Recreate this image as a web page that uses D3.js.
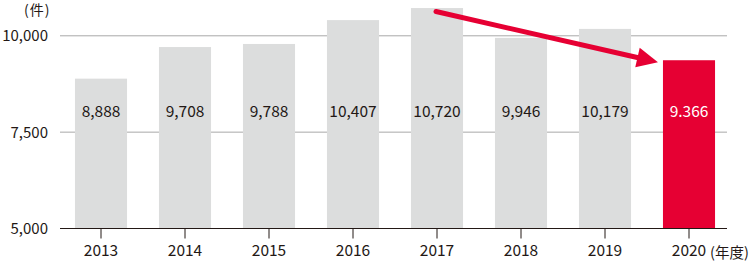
<!DOCTYPE html>
<html>
<head>
<meta charset="utf-8">
<script src="https://cdn.jsdelivr.net/npm/d3@7"></script>
<style>
  body { margin: 0; background: #fff; }
  text { font-family: "Noto Sans CJK JP", "Noto Sans", sans-serif; fill: #231815; }
</style>
</head>
<body>
<div id="chart"></div>
<script>
const years = ["2013", "2014", "2015", "2016", "2017", "2018", "2019", "2020"]
const counts = [8888, 9708, 9788, 10407, 10720, 9946, 10179, 9366]
const countLabels = ["8,888", "9,708", "9,788", "10,407", "10,720", "9,946", "10,179", "9.366"]
const yTicks = [5000, 7500, 10000]

const width = 756
const height = 262

const svg = d3.select("#chart")
  .append("svg")
  .attr("width", width)
  .attr("height", height)

const xScale = d3.scaleBand().domain(years).range([59, 731]).paddingInner(0.38).paddingOuter(0.19)
const yScale = d3.scaleLinear().domain([5000, 10000]).range([228.5, 35.8])

// grid lines
svg.selectAll(".grid")
  .data(yTicks.filter(t => t > 5000))
  .enter()
  .append("line")
  .attr("x1", 60)
  .attr("x2", 727)
  .attr("y1", d => yScale(d))
  .attr("y2", d => yScale(d))
  .style("stroke", "#a9a9a9")
  .style("stroke-width", 1)

// bars
svg.selectAll(".bar")
  .data(counts)
  .enter()
  .append("rect")
  .attr("x", (d, i) => xScale(years[i]))
  .attr("width", xScale.bandwidth())
  .attr("y", d => yScale(d))
  .attr("height", d => yScale(5000) - yScale(d))
  .style("fill", (d, i) => i === years.length - 1 ? "#e60033" : "#dcdddd")

// value labels
svg.selectAll(".val")
  .data(countLabels)
  .enter()
  .append("text")
  .attr("x", (d, i) => xScale(years[i]) + xScale.bandwidth() / 2)
  .attr("y", 117)
  .attr("text-anchor", "middle")
  .style("font-size", "15.5px")
  .style("fill", (d, i) => i === years.length - 1 ? "#fff" : "#231815")
  .text(d => d)

// bottom axis
const xAxis = svg.append("g")
  .attr("transform", `translate(0, ${yScale(5000)})`)
  .call(d3.axisBottom(xScale).tickSize(10).tickPadding(6))
xAxis.select(".domain").remove()
xAxis.selectAll("line").style("stroke", "#231815")
xAxis.selectAll("text")
  .style("font-size", "15.5px")
  .style("font-family", '"Noto Sans CJK JP", "Noto Sans", sans-serif')
  .style("fill", "#231815")
svg.append("line")
  .attr("x1", 60)
  .attr("x2", 727)
  .attr("y1", yScale(5000))
  .attr("y2", yScale(5000))
  .style("stroke", "#231815")
  .style("stroke-width", 1.2)

// unit after last year
svg.append("text")
  .attr("x", xScale(years[years.length - 1]) + xScale.bandwidth() / 2 + 21)
  .attr("y", 258)
  .style("font-size", "14.5px")
  .text("(年度)")

// y tick labels
svg.selectAll(".ytick")
  .data(yTicks)
  .enter()
  .append("text")
  .attr("x", 48)
  .attr("y", d => yScale(d) + 5.5)
  .attr("text-anchor", "end")
  .style("font-size", "15px")
  .text(d => d3.format(",")(d))

// y unit
svg.append("text")
  .attr("x", 24)
  .attr("y", 15)
  .style("font-size", "14px")
  .style("letter-spacing", "1px")
  .text("(件)")

// trend arrow from 2017 to 2020
const x0 = xScale("2017") + xScale.bandwidth() / 2 - 1
const y0 = yScale(counts[4]) + 3.5
const x1 = xScale("2020") - 5
const y1 = yScale(counts[7]) + 2
const ang = Math.atan2(y1 - y0, x1 - x0)
const headLen = 21
const headHalf = 10
const bx = x1 - headLen * Math.cos(ang)
const by = y1 - headLen * Math.sin(ang)

svg.append("line")
  .attr("x1", x0)
  .attr("y1", y0)
  .attr("x2", bx + 2 * Math.cos(ang))
  .attr("y2", by + 2 * Math.sin(ang))
  .style("stroke", "#e60033")
  .style("stroke-width", 5)
  .style("stroke-linecap", "round")

svg.append("path")
  .attr("d", d3.line()([
    [x1, y1],
    [bx + headHalf * Math.sin(ang), by - headHalf * Math.cos(ang)],
    [bx - headHalf * Math.sin(ang), by + headHalf * Math.cos(ang)]
  ]) + "Z")
  .style("fill", "#e60033")
</script>
</body>
</html>
